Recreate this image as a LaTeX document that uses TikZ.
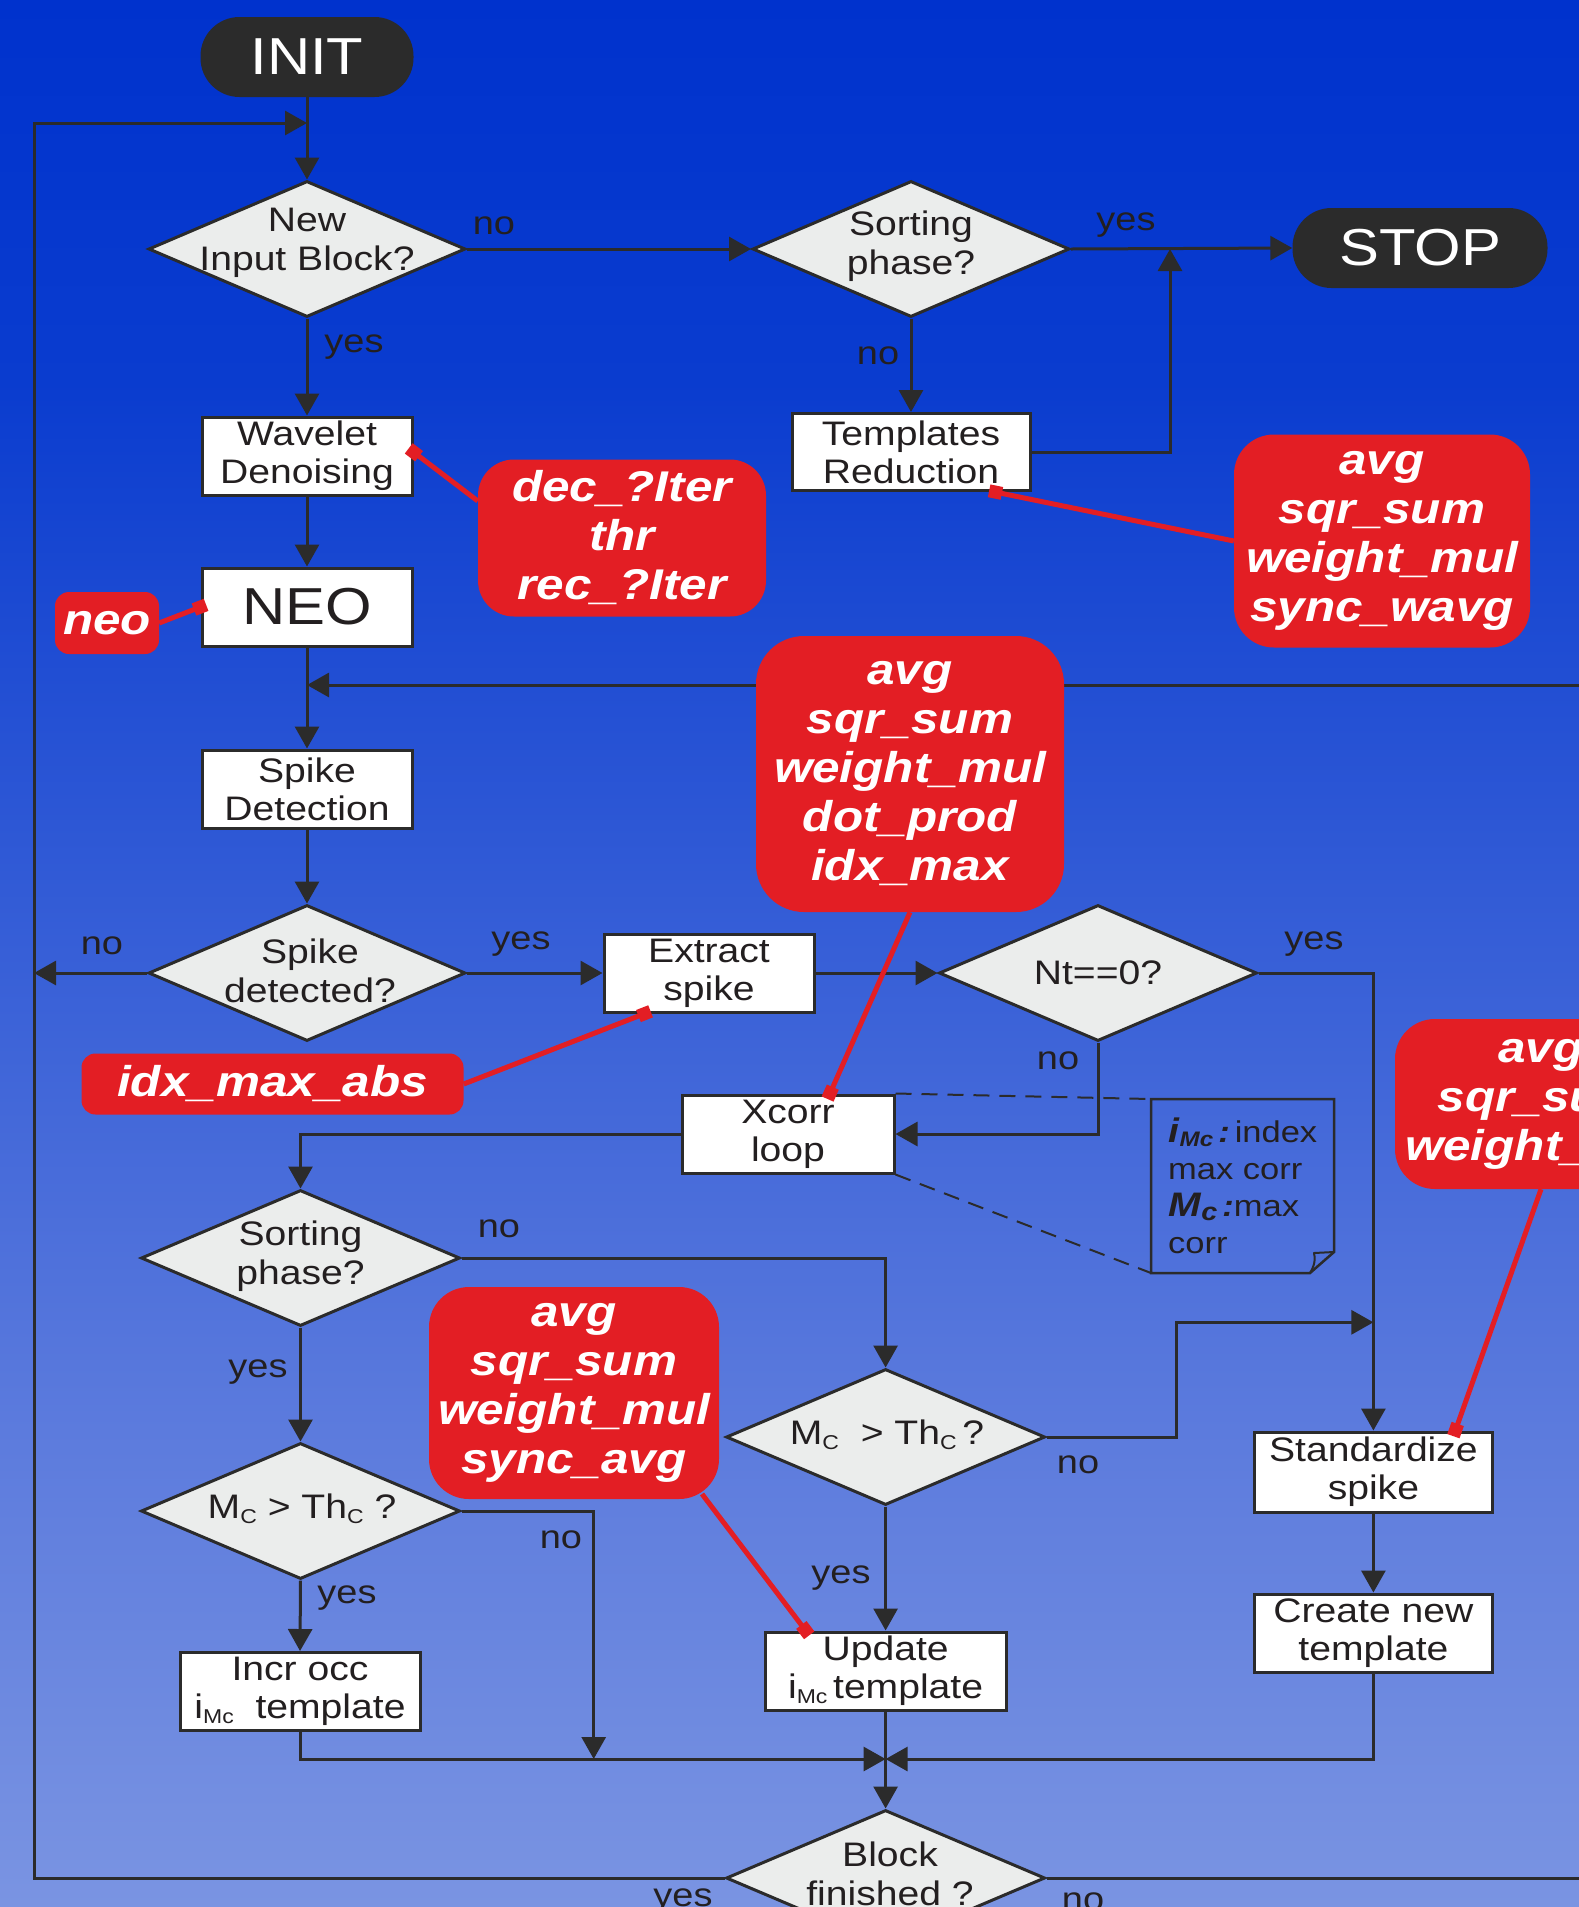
\documentclass[tikz,border=0pt]{standalone}
\usepackage{fontspec}
\setmainfont{Liberation Sans}[FakeStretch=1.15]
\usetikzlibrary{shapes.geometric,arrows.meta,calc}

\definecolor{bgA}{RGB}{122,148,226}
\definecolor{bgB}{RGB}{92,123,221}
\definecolor{bgC}{RGB}{55,95,215}
\definecolor{bgD}{RGB}{10,60,207}
\definecolor{bgE}{RGB}{0,50,205}
\definecolor{lineC}{RGB}{43,43,43}
\definecolor{diaC}{RGB}{235,237,236}
\definecolor{redC}{RGB}{227,30,36}
\definecolor{txtC}{RGB}{35,31,32}
\definecolor{pillC}{RGB}{43,43,43}

\pgfdeclareverticalshading{bgsh}{100bp}{color(0bp)=(bgA); color(25bp)=(bgA); color(37.5bp)=(bgB); color(50bp)=(bgC); color(65bp)=(bgD); color(75bp)=(bgE); color(100bp)=(bgE)}

\newcommand{\sbs}[2][20]{\raisebox{-0.25ex}{\fontsize{#1}{#1}\selectfont #2}}

\begin{document}
\begin{tikzpicture}[x=1pt,y=-1pt,
  ln/.style={draw=lineC, line width=3pt},
  arr/.style={ln, -{Triangle[length=22pt,width=24pt]}},
  pill/.style={fill=pillC, rounded corners=39pt, minimum width=#1, minimum height=80pt, text=white, font=\fontsize{52}{52}\selectfont, inner sep=0pt},
  procbox/.style={draw=lineC, line width=3pt, fill=white, minimum width=210pt, minimum height=78pt, inner sep=0pt, align=center, text=txtC, font=\fontsize{34}{38}\selectfont},
  dia/.style={shape=diamond, draw=lineC, line width=3pt, fill=diaC, minimum width=317pt, minimum height=136pt, inner sep=0pt},
  diatxt/.style={align=center, text=txtC, font=\fontsize{34}{39}\selectfont, inner sep=0pt},
  redbox/.style={fill=redC, rounded corners=40pt, text=white, align=center, font=\fontsize{43}{49}\selectfont\bfseries\itshape, inner sep=0pt},
  redln/.style={draw=redC, line width=5pt, -{Square[length=13pt,width=13pt]}, shorten >=-6pt},
  lab/.style={text=txtC, font=\fontsize{33}{33}\selectfont, inner sep=0pt},
  notetxt/.style={text=txtC, font=\fontsize{30}{37}\selectfont, inner sep=0pt, align=left}
]
\useasboundingbox (0,0) rectangle (1579,1907);
\clip (0,0) rectangle (1579,1907);
\fill[shading=bgsh] (0,0) rectangle (1579,1907);

% ---- nodes ----
\node[pill=213pt] (init) at (307,57) {INIT};
\node[dia] (d1) at (307,249) {};
\node[diatxt] (d1t) at (307,243) {New\\Input Block?};
\node[dia] (sp1) at (911,249) {};
\node[diatxt] (sp1t) at (911,246) {Sorting\\phase?};
\node[pill=255pt] (stop) at (1420,248) {STOP};
\node[procbox] (wav) at (307,456) {Wavelet\\Denoising};
\node[procbox, minimum width=238pt, minimum height=77pt] (tr) at (911,452) {Templates\\Reduction};
\node[procbox, font=\fontsize{52}{52}\selectfont] (neo) at (307,607) {NEO};
\node[procbox] (sdet) at (307,789) {Spike\\Detection};
\node[dia] (sdq) at (307,973) {};
\node[diatxt] (sdqt) at (310,971) {Spike\\detected?};
\node[procbox] (ext) at (709,973) {Extract\\spike};
\node[dia, minimum width=318pt] (nt) at (1098,973) {};
\node[diatxt] (ntt) at (1098,973) {Nt==0?};
\node[procbox, minimum width=212pt] (xc) at (788,1134) {Xcorr\\loop};
\node[dia, minimum width=319pt] (sl) at (300.5,1258) {};
\node[diatxt] (slt) at (300.5,1256) {Sorting\\phase?};
\node[dia, minimum width=319pt] (ml) at (300.5,1511) {};
\node[diatxt] (mlt) at (302,1509) {M\sbs{C} > Th\sbs{C} ?};
\node[procbox, minimum width=240pt] (inc) at (300,1691.5) {Incr occ\\i\sbs{Mc}\ \ template};
\node[dia, minimum width=319pt] (mm) at (885.6,1437) {};
\node[diatxt] (mmt) at (887,1435) {M\sbs{C}~~> Th\sbs{C}\,?};
\node[procbox, minimum width=241pt] (upd) at (885.6,1671) {Update\\i\sbs{Mc}\,template};
\node[procbox, minimum width=238pt, minimum height=80pt] (std) at (1373.4,1472) {Standardize\\spike};
\node[procbox, minimum width=238pt] (cnt) at (1373.4,1633) {Create new\\template};
\node[dia, minimum width=319pt] (bf) at (885.6,1878) {};
\node[diatxt] (bft) at (890,1874) {Block\\finished ?};

% ---- junction coordinates ----
\coordinate (j0) at (307,123);
\coordinate (lcorner) at (34,123);
\coordinate (j1) at (307,685);
\coordinate (rr) at (1660,1878);
\coordinate (j2) at (1170,249);
\coordinate (j3) at (593.7,1759);
\coordinate (jm) at (885.6,1759);
\coordinate (j4) at (1176.4,1322.3);
\coordinate (j5) at (1373.4,1322.3);
\coordinate (noteNW) at (1151,1099);
\coordinate (noteSW) at (1151,1273);

% ---- connectors ----
\draw[arr] (init) -- (d1);
\draw[arr] (bf.west) -| (lcorner) -- (j0);
\draw[arr] (d1.east) -- (sp1.west);
\draw[arr] (sp1.east) -- (stop.west);
\draw[arr] (sp1.south) -- (tr.north);
\draw[arr] (tr.east) -| (j2);
\draw[arr] (d1.south) -- (wav.north);
\draw[arr] (wav.south) -- (neo.north);
\draw[arr] (neo.south) -- (sdet.north);
\draw[arr] (bf.east) -- (rr) |- (j1);
\draw[arr] (sdet.south) -- (sdq.north);
\draw[arr] (sdq.west) -- (sdq.west -| lcorner);
\draw[arr] (sdq.east) -- (ext.west);
\draw[arr] (ext.east) -- (nt.west);
\draw[arr] (nt.east) -| (std.north);
\draw[arr] (nt.south) |- (xc.east);
\draw[arr] (xc.west) -| (sl.north);
\draw[arr] (sl.east) -| (mm.north);
\draw[arr] (sl.south) -- (ml.north);
\draw[arr] (ml.east) -| (j3);
\draw[arr] (ml.south) -- (inc.north);
\draw[arr] (inc.south) |- (jm);
\draw[arr] (mm.east) -| (j4) -- (j5);
\draw[arr] (mm.south) -- (upd.north);
\draw[arr] (upd.south) -- (bf.north);
\draw[arr] (std.south) -- (cnt.north);
\draw[arr] (cnt.south) |- (jm);

% ---- note ----
\draw[ln, line width=2.5pt] (noteNW) -- (1334,1099) -- (1334,1252) -- (1310,1273) -- (noteSW) -- cycle;
\draw[ln, line width=2pt, line join=round] (1334,1252) -- (1314,1253) .. controls (1316,1262) and (1313,1268) .. (1310,1273);
\draw[ln, line width=2pt, dash pattern=on 16pt off 10pt] (xc.north east) -- (noteNW);
\draw[ln, line width=2pt, dash pattern=on 16pt off 10pt] (xc.south east) -- (noteSW);
\node[notetxt, anchor=north west] (notet) at (1168,1118) {{\fontsize{34}{37}\selectfont\textbf{\textit{i}}}\sbs[21]{\textbf{\textit{Mc}}}\,\textbf{\textit{:}}\,index\\max corr\\{\fontsize{34}{37}\selectfont\textbf{\textit{M}}}\sbs[25]{\textbf{\textit{c}}}\,\textbf{\textit{:}}max\\corr};

% ---- labels ----
\node[lab] (l1) at (494,226) {no};
\node[lab] (l2) at (354,347) {yes};
\node[lab] (l3) at (1126,225) {yes};
\node[lab] (l4) at (878,356) {no};
\node[lab] (l5) at (102,946) {no};
\node[lab] (l6) at (521,944) {yes};
\node[lab] (l7) at (1314,944) {yes};
\node[lab] (l8) at (1058,1061) {no};
\node[lab] (l9) at (499,1229) {no};
\node[lab] (l10) at (258,1372) {yes};
\node[lab] (l11) at (561,1540) {no};
\node[lab] (l12) at (347,1598) {yes};
\node[lab] (l13) at (1078,1465) {no};
\node[lab] (l14) at (841,1578) {yes};
\node[lab, anchor=north] (l15) at (683,1889) {yes};
\node[lab, anchor=north] (l16) at (1083,1893) {no};

% ---- red boxes ----
\node[redbox, minimum width=288pt, minimum height=157pt, rounded corners=36pt] (r1) at (622,538) {dec\_?Iter\\thr\\rec\_?Iter};
\node[redbox, minimum width=296pt, minimum height=213pt] (r2) at (1382,541) {avg\\sqr\_sum\\weight\_mul\\sync\_wavg};
\node[redbox, minimum width=104pt, minimum height=62pt, rounded corners=14pt] (r3) at (107,623) {neo};
\node[redbox, minimum width=308pt, minimum height=276pt, rounded corners=48pt] (r4) at (910,774) {avg\\sqr\_sum\\weight\_mul\\dot\_prod\\idx\_max};
\node[redbox, minimum width=382pt, minimum height=61pt, rounded corners=14pt] (r5) at (272.5,1084) {idx\_max\_abs};
\node[redbox, minimum width=292pt, minimum height=170pt] (r6) at (1541,1104) {avg\\sqr\_sum\\weight\_mul};
\node[redbox, minimum width=290pt, minimum height=212pt] (r7) at (574,1393) {avg\\sqr\_sum\\weight\_mul\\sync\_avg};

% ---- red connectors ----
\draw[redln] ($(r1.west)+(0,-37)$) -- ($(wav.east)+(0,-4)$);
\draw[redln] (r2.west) -- ($(tr.south)+(84,0)$);
\draw[redln] (r3.east) -- (neo.west);
\draw[redln] (r4.south) -- ($(xc.north)+(42,0)$);
\draw[redln] (r5.east) -- ($(ext.south)+(-64,0)$);
\draw[redln] (r6.south) -- ($(std.north)+(82,0)$);
\draw[redln] ($(r7.center)+(128,101)$) -- ($(upd.north)+(-80,0)$);
\end{tikzpicture}
\end{document}
